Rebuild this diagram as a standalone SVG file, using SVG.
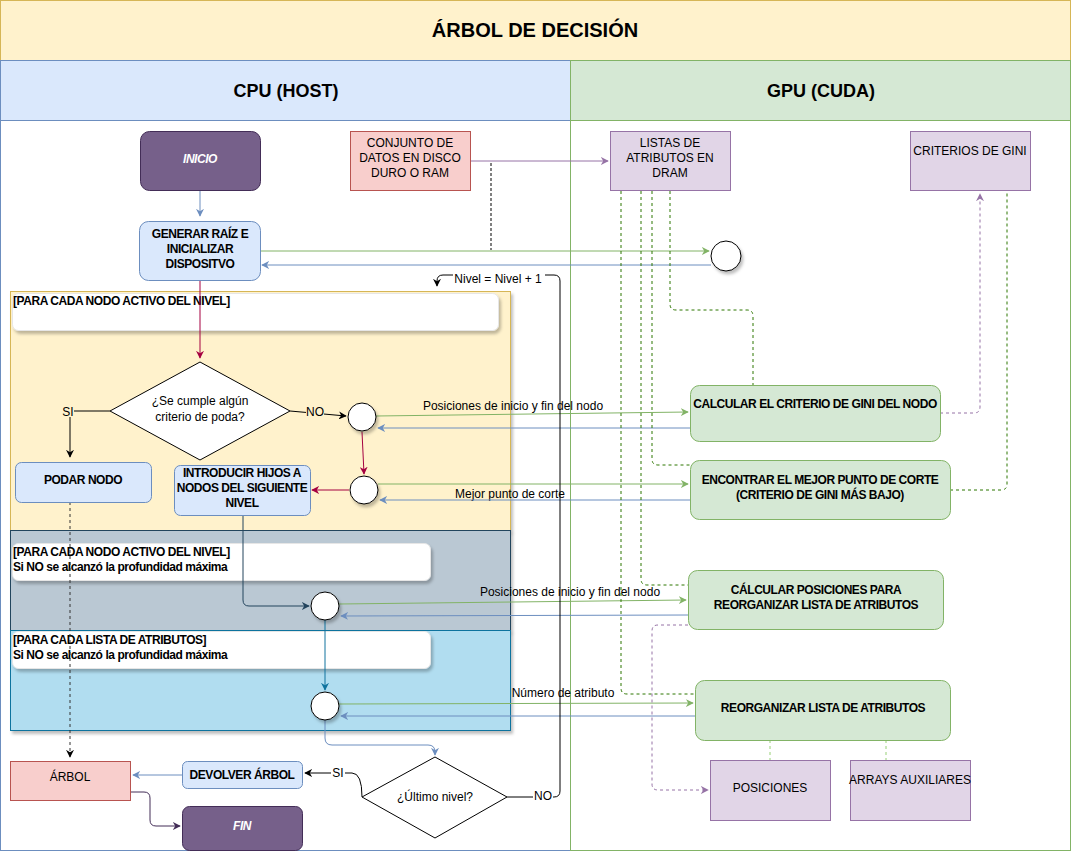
<svg xmlns="http://www.w3.org/2000/svg" width="1071" height="851" viewBox="0 0 1071 851">
<defs>
<style>
text{font-family:"Liberation Sans",Arial,sans-serif;font-size:12px;fill:#000}
.b{font-weight:bold;font-size:12px;letter-spacing:-0.45px}
.c{text-anchor:middle}
.lbl{font-size:12px}
.ln{fill:none;stroke-width:1}
.dash{stroke-dasharray:3 3}
.circ{fill:#fff;stroke:#000;stroke-width:1}
</style>
<filter id="sh" x="-10%" y="-10%" width="130%" height="140%"><feDropShadow dx="2" dy="3" stdDeviation="1.5" flood-color="#000" flood-opacity="0.25"/></filter>
<marker id="aG" viewBox="0 0 10 10" refX="9" refY="5" markerWidth="8" markerHeight="8" orient="auto"><path d="M0,0 L10,5 L0,10 L3,5 Z" fill="#82b366"/></marker>
<marker id="aB" viewBox="0 0 10 10" refX="9" refY="5" markerWidth="8" markerHeight="8" orient="auto"><path d="M0,0 L10,5 L0,10 L3,5 Z" fill="#6c8ebf"/></marker>
<marker id="aP" viewBox="0 0 10 10" refX="9" refY="5" markerWidth="8" markerHeight="8" orient="auto"><path d="M0,0 L10,5 L0,10 L3,5 Z" fill="#9673a6"/></marker>
<marker id="aR" viewBox="0 0 10 10" refX="9" refY="5" markerWidth="8" markerHeight="8" orient="auto"><path d="M0,0 L10,5 L0,10 L3,5 Z" fill="#a50040"/></marker>
<marker id="aK" viewBox="0 0 10 10" refX="9" refY="5" markerWidth="8" markerHeight="8" orient="auto"><path d="M0,0 L10,5 L0,10 L3,5 Z" fill="#000"/></marker>
<marker id="aS" viewBox="0 0 10 10" refX="9" refY="5" markerWidth="8" markerHeight="8" orient="auto"><path d="M0,0 L10,5 L0,10 L3,5 Z" fill="#23445d"/></marker>
<marker id="aT" viewBox="0 0 10 10" refX="9" refY="5" markerWidth="8" markerHeight="8" orient="auto"><path d="M0,0 L10,5 L0,10 L3,5 Z" fill="#10739e"/></marker>
<marker id="aV" viewBox="0 0 10 10" refX="9" refY="5" markerWidth="8" markerHeight="8" orient="auto"><path d="M0,0 L10,5 L0,10 L3,5 Z" fill="#432d57"/></marker>
</defs>
<rect width="1071" height="851" fill="#fff"/>

<!-- Swimlanes -->
<g id="pool">
<rect x="0.5" y="0.5" width="1070" height="60" fill="#fff2cc" stroke="#d6b656"/>
<text x="535" y="37" class="c" style="font-size:20px;font-weight:bold">ÁRBOL DE DECISIÓN</text>
</g>
<g id="lane-cpu">
<rect x="0.5" y="60.5" width="570" height="790" fill="#fff" stroke="#6c8ebf"/>
<rect x="0.5" y="60.5" width="570" height="60" fill="#dae8fc" stroke="#6c8ebf"/>
<text x="286" y="97" class="c" style="font-size:18px;font-weight:bold">CPU (HOST)</text>
</g>
<g id="lane-gpu">
<rect x="570.5" y="60.5" width="500" height="790" fill="#fff" stroke="#82b366"/>
<rect x="570.5" y="60.5" width="500" height="60" fill="#d5e8d4" stroke="#82b366"/>
<text x="821" y="97" class="c" style="font-size:18px;font-weight:bold">GPU (CUDA)</text>
</g>

<!-- Containers -->
<g id="loop-nodos">
<rect x="10.5" y="291.5" width="500" height="239" fill="#fff2cc" stroke="#d6b656" filter="url(#sh)"/>
<rect x="12.5" y="293.5" width="486" height="37" rx="6" fill="#fff" stroke="#e6e6e6" filter="url(#sh)"/>
<text x="13" y="305" class="b">[PARA CADA NODO ACTIVO DEL NIVEL]</text>
</g>
<g id="loop-nodos2">
<rect x="10.5" y="530.5" width="500" height="100" fill="#bac8d3" stroke="#23445d" filter="url(#sh)"/>
<rect x="12.5" y="543.5" width="418" height="37" rx="6" fill="#fff" stroke="#e6e6e6" filter="url(#sh)"/>
<text x="13" y="556" class="b">[PARA CADA NODO ACTIVO DEL NIVEL]</text>
<text x="13" y="571" class="b">Si NO se alcanzó la profundidad máxima</text>
</g>
<g id="loop-listas">
<rect x="10.5" y="630.5" width="500" height="100" fill="#b1ddf0" stroke="#10739e" filter="url(#sh)"/>
<rect x="12.5" y="631.5" width="418" height="37" rx="6" fill="#fff" stroke="#e6e6e6" filter="url(#sh)"/>
<text x="13" y="644" class="b">[PARA CADA LISTA DE ATRIBUTOS]</text>
<text x="13" y="659" class="b">Si NO se alcanzó la profundidad máxima</text>
</g>

<!-- Connectors -->
<g id="connectors">
<path class="ln" d="M200,190 V216" stroke="#6c8ebf" marker-end="url(#aB)"/>
<path class="ln" d="M470,161 H608" stroke="#9673a6" marker-end="url(#aP)"/>
<path class="ln" d="M491,163 V250" stroke="#000" stroke-dasharray="3 2"/>
<path class="ln" d="M260,251 H709" stroke="#82b366" marker-end="url(#aG)"/>
<path class="ln" d="M711,265 H262" stroke="#6c8ebf" marker-end="url(#aB)"/>
<path class="ln" d="M200,281 V358" stroke="#a50040" marker-end="url(#aR)"/>
<path class="ln" d="M362,432 L364,474" stroke="#a50040" marker-end="url(#aR)"/>
<path class="ln" d="M349,490 H312" stroke="#a50040" marker-end="url(#aR)"/>
<path class="ln" d="M110,411 H70 V457" stroke="#000" marker-end="url(#aK)"/>
<rect x="62" y="405" width="12" height="12" fill="#fff2cc"/>
<text x="68" y="416" class="lbl c">SI</text>
<path class="ln" d="M290,411 L346,416" stroke="#000" marker-end="url(#aK)"/>
<rect x="306" y="405" width="18" height="12" fill="#fff2cc"/>
<text x="315" y="416" class="lbl c">NO</text>
<path class="ln" d="M376,416 L688,412" stroke="#82b366" marker-end="url(#aG)"/>
<text x="513" y="410" class="lbl c">Posiciones de inicio y fin del nodo</text>
<path class="ln" d="M690,428 H378" stroke="#6c8ebf" marker-end="url(#aB)"/>
<path class="ln" d="M378,484 H688" stroke="#82b366" marker-end="url(#aG)"/>
<text x="510" y="498" class="lbl c">Mejor punto de corte</text>
<path class="ln" d="M690,500 H380" stroke="#6c8ebf" marker-end="url(#aB)"/>
<path class="ln" d="M243,515 V600 Q243,606 249,606 H309" stroke="#23445d" marker-end="url(#aS)"/>
<path class="ln" d="M339,604 L686,600" stroke="#82b366" marker-end="url(#aG)"/>
<text x="570" y="596" class="lbl c">Posiciones de inicio y fin del nodo</text>
<path class="ln" d="M688,615 L341,616" stroke="#6c8ebf" marker-end="url(#aB)"/>
<path class="ln" d="M325,620 V690" stroke="#10739e" marker-end="url(#aT)"/>
<path class="ln" d="M339,704 L693,703" stroke="#82b366" marker-end="url(#aG)"/>
<text x="563" y="697" class="lbl c">Número de atributo</text>
<path class="ln" d="M695,716 H341" stroke="#6c8ebf" marker-end="url(#aB)"/>
<path class="ln" d="M325,720 V738 Q325,745 332,745 H428 Q435,745 435,752 V755" stroke="#6c8ebf" marker-end="url(#aB)"/>
<path class="ln" d="M362,797 Q362,773 352,773 H305" stroke="#000" marker-end="url(#aK)"/>
<rect x="331" y="767" width="14" height="12" fill="#fff"/>
<text x="338" y="777" class="lbl c">SI</text>
<path class="ln" d="M507,797 H554 Q560,797 560,791 V281 Q560,275 554,275 H443 Q437,275 437,281 V286" stroke="#000" marker-end="url(#aK)"/>
<rect x="533" y="790" width="20" height="12" fill="#fff"/>
<text x="543" y="800" class="lbl c">NO</text>
<rect x="453" y="272" width="92" height="13" fill="#fff"/>
<text x="498" y="283" class="lbl c">Nivel = Nivel + 1</text>
<path class="ln" d="M182,775 H133" stroke="#6c8ebf" marker-end="url(#aB)"/>
<path class="ln" d="M131,792 H144 Q150,792 150,798 V820 Q150,826 156,826 H180" stroke="#432d57" marker-end="url(#aV)"/>
<path class="ln dash" d="M70,502 V757" stroke="#333" marker-end="url(#aK)"/>
<path class="ln dash" d="M670,191 V304 Q670,310 676,310 H747 Q753,310 753,316 V385" stroke="#2d7600"/>
<path class="ln dash" d="M652,191 V459 Q652,465 658,465 H690" stroke="#2d7600"/>
<path class="ln dash" d="M641,191 V579 Q641,585 647,585 H688" stroke="#2d7600"/>
<path class="ln dash" d="M621,191 V688 Q621,694 627,694 H695" stroke="#2d7600"/>
<path class="ln dash" d="M940,413 H974 Q980,413 980,407 V194" stroke="#9673a6" marker-end="url(#aP)"/>
<path class="ln dash" d="M950,490 H1001 Q1007,490 1007,484 V191" stroke="#2d7600"/>
<path class="ln dash" d="M688,625 H658 Q652,625 652,631 V784 Q652,790 658,790 H708" stroke="#9673a6" marker-end="url(#aP)"/>
<path class="ln dash" d="M770,740 V760" stroke="#97d077"/>
<path class="ln dash" d="M886,740 V760" stroke="#97d077"/>
</g>

<!-- Nodes -->
<g id="inicio">
<rect x="140.5" y="131.5" width="120" height="59" rx="9" fill="#76608a" stroke="#432d57"/>
<text x="200" y="163" class="b c" style="fill:#fff;font-style:italic">INICIO</text>
</g>
<g id="conjunto">
<rect x="350.5" y="131.5" width="120" height="59" fill="#f8cecc" stroke="#b85450"/>
<text x="410" y="147" class="c">CONJUNTO DE</text>
<text x="410" y="162" class="c">DATOS EN DISCO</text>
<text x="410" y="177" class="c">DURO O RAM</text>
</g>
<g id="listas">
<rect x="610.5" y="131.5" width="120" height="59" fill="#e1d5e7" stroke="#9673a6"/>
<text x="670" y="147" class="c">LISTAS DE</text>
<text x="670" y="162" class="c">ATRIBUTOS EN</text>
<text x="670" y="177" class="c">DRAM</text>
</g>
<g id="criterios">
<rect x="910.5" y="131.5" width="120" height="59" fill="#e1d5e7" stroke="#9673a6"/>
<text x="970" y="155" class="c">CRITERIOS DE GINI</text>
</g>
<g id="generar">
<rect x="139.5" y="221.5" width="121" height="59" rx="9" fill="#dae8fc" stroke="#6c8ebf"/>
<text x="200" y="238" class="b c">GENERAR RAÍZ E</text>
<text x="200" y="253" class="b c">INICIALIZAR</text>
<text x="200" y="268" class="b c">DISPOSITVO</text>
</g>
<g id="sync0"><circle cx="726" cy="256" r="15" class="circ" filter="url(#sh)"/></g>
<g id="poda">
<path d="M200,362 L290,411 L200,460 L110,411 Z" fill="#fff" stroke="#000"/>
<text x="200" y="405" class="c">¿Se cumple algún</text>
<text x="200" y="421" class="c">criterio de poda?</text>
</g>
<g id="podar">
<rect x="15.5" y="462.5" width="136" height="40" rx="6" fill="#dae8fc" stroke="#6c8ebf"/>
<text x="83" y="484" class="b c">PODAR NODO</text>
</g>
<g id="introducir">
<rect x="174.5" y="465.5" width="136" height="50" rx="6" fill="#dae8fc" stroke="#6c8ebf"/>
<text x="242" y="477" class="b c">INTRODUCIR HIJOS A</text>
<text x="242" y="492" class="b c">NODOS DEL SIGUIENTE</text>
<text x="242" y="507" class="b c">NIVEL</text>
</g>
<g id="sync1"><circle cx="362" cy="417" r="14" class="circ" filter="url(#sh)"/></g>
<g id="sync2"><circle cx="364" cy="490" r="14" class="circ" filter="url(#sh)"/></g>
<g id="sync3"><circle cx="325" cy="606" r="14" class="circ" filter="url(#sh)"/></g>
<g id="sync4"><circle cx="325" cy="706" r="14" class="circ" filter="url(#sh)"/></g>
<g id="calcular">
<rect x="690.5" y="385.5" width="250" height="56" rx="9" fill="#d5e8d4" stroke="#82b366"/>
<text x="815" y="408" class="b c">CALCULAR EL CRITERIO DE GINI DEL NODO</text>
</g>
<g id="encontrar">
<rect x="690.5" y="460.5" width="260" height="59" rx="9" fill="#d5e8d4" stroke="#82b366"/>
<text x="820" y="484" class="b c">ENCONTRAR EL MEJOR PUNTO DE CORTE</text>
<text x="820" y="499" class="b c">(CRITERIO DE GINI MÁS BAJO)</text>
</g>
<g id="calc-pos">
<rect x="688.5" y="570.5" width="255" height="59" rx="9" fill="#d5e8d4" stroke="#82b366"/>
<text x="816" y="594" class="b c">CÁLCULAR POSICIONES PARA</text>
<text x="816" y="609" class="b c">REORGANIZAR LISTA DE ATRIBUTOS</text>
</g>
<g id="reorganizar">
<rect x="695.5" y="680.5" width="255" height="60" rx="9" fill="#d5e8d4" stroke="#82b366"/>
<text x="823" y="712" class="b c">REORGANIZAR LISTA DE ATRIBUTOS</text>
</g>
<g id="posiciones">
<rect x="710.5" y="760.5" width="120" height="60" fill="#e1d5e7" stroke="#9673a6"/>
<text x="770" y="792" class="c">POSICIONES</text>
</g>
<g id="arrays">
<rect x="850.5" y="760.5" width="120" height="60" fill="#e1d5e7" stroke="#9673a6"/>
<text x="910" y="784" class="c">ARRAYS AUXILIARES</text>
</g>
<g id="ultimo">
<path d="M435,757 L507,797 L435,838 L362,797 Z" fill="#fff" stroke="#000"/>
<text x="435" y="801" class="c">¿Último nivel?</text>
</g>
<g id="devolver">
<rect x="182.5" y="761.5" width="120" height="27" rx="5" fill="#dae8fc" stroke="#6c8ebf"/>
<text x="242" y="779" class="b c">DEVOLVER ÁRBOL</text>
</g>
<g id="arbol">
<rect x="10.5" y="761.5" width="120" height="39" fill="#f8cecc" stroke="#b85450"/>
<text x="70" y="781" class="c">ÁRBOL</text>
</g>
<g id="fin">
<rect x="182.5" y="806.5" width="120" height="44" rx="7" fill="#76608a" stroke="#432d57"/>
<text x="242" y="830" class="b c" style="fill:#fff;font-style:italic">FIN</text>
</g>
</svg>
